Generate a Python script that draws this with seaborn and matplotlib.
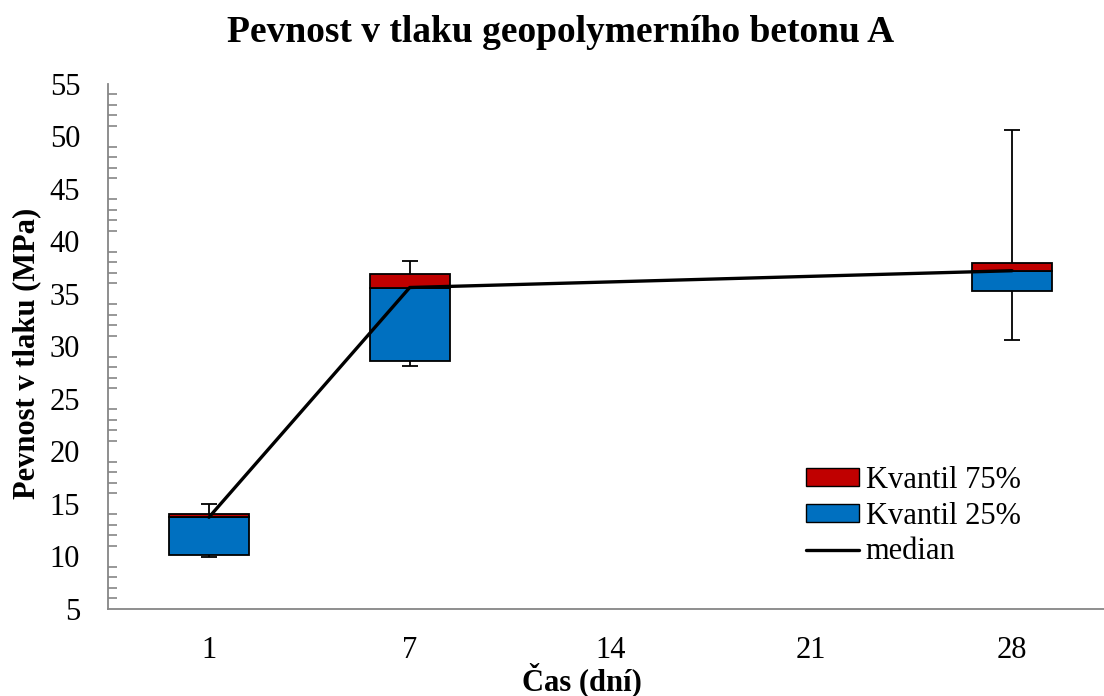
import numpy as np
import pandas as pd
import matplotlib
matplotlib.use("Agg")
import matplotlib.pyplot as plt
import seaborn as sns
from matplotlib.patches import Patch
from matplotlib.lines import Line2D
from matplotlib.ticker import MultipleLocator

# ---- data ----
day_labels = ["1", "7", "14", "21", "28"]
days = ["1", "7", "28"]
q25 = [10.1, 28.6, 35.3]
median = [13.7, 35.6, 37.2]
q75 = [14.05, 36.85, 37.95]
vmin = [9.95, 28.1, 30.6]
vmax = [15.0, 38.15, 50.65]

title = "Pevnost v tlaku geopolymerního betonu A"
xlabel = "Čas (dní)"
ylabel = "Pevnost v tlaku (MPa)"

df = pd.DataFrame({"day": days, "q25": q25, "median": median, "q75": q75,
                   "vmin": vmin, "vmax": vmax})
df["pos"] = [day_labels.index(d) for d in df["day"]]

sns.set_theme(style="white")
plt.rcParams["font.family"] = ["Liberation Serif", "DejaVu Serif"]
plt.rcParams["text.color"] = "black"

fig = plt.figure(figsize=(11.04, 6.96), dpi=100)
ax = fig.add_axes([108 / 1104, (696 - 608.5) / 696, 1 - 108 / 1104, (608.5 - 84) / 696])

red = "#C00000"
blue = "#0070C0"
gray = "#868686"
w = 0.4

# whiskers
ax.errorbar(df["pos"], df["median"],
            yerr=[df["median"] - df["vmin"], df["vmax"] - df["median"]],
            fmt="none", ecolor="black", elinewidth=1.3, capsize=6, capthick=1.3, zorder=1)
# boxes
ax.bar(df["pos"], df["median"] - df["q25"], bottom=df["q25"], width=w,
       color=blue, edgecolor="black", linewidth=1.3, zorder=2)
ax.bar(df["pos"], df["q75"] - df["median"], bottom=df["median"], width=w,
       color=red, edgecolor="black", linewidth=1.3, zorder=2)
# median line
sns.lineplot(data=df, x="pos", y="median", color="black", linewidth=2.4,
             ax=ax, zorder=3, legend=False)

ax.set_xlim(-0.503, 4.458)
ax.set_ylim(5, 55)
ax.set_xticks(range(len(day_labels)))
ax.set_xticklabels(day_labels)
ax.yaxis.set_major_locator(MultipleLocator(5))
ax.yaxis.set_minor_locator(MultipleLocator(1))
ax.tick_params(axis="both", which="both", direction="in", color=gray, width=1.2,
               labelsize=22, labelcolor="black")
ax.tick_params(axis="y", which="major", length=6.5, pad=20)
ax.tick_params(axis="y", which="minor", length=6.5, left=True)
ax.tick_params(axis="x", which="major", length=5, pad=20)
for s in ["top", "right"]:
    ax.spines[s].set_visible(False)
for s in ["left", "bottom"]:
    ax.spines[s].set_color(gray)
    ax.spines[s].set_linewidth(1.3)
ax.grid(False)
ax.set_xlabel("")
ax.set_ylabel("")

fig.text(561 / 1104, 1 - 33 / 696, title, ha="center", va="center",
         fontsize=27, fontweight="bold", color="black")
fig.text(582 / 1104, 1 - 680 / 696, xlabel, ha="center", va="center",
         fontsize=22, fontweight="bold", color="black")
fig.text(27 / 1104, 1 - 353 / 696, ylabel, ha="center", va="center",
         fontsize=22, fontweight="bold", rotation=90, color="black")

handles = [Patch(facecolor=red, edgecolor="black", linewidth=1),
           Patch(facecolor=blue, edgecolor="black", linewidth=1),
           Line2D([0], [0], color="black", linewidth=2.4)]
labels = ["Kvantil 75%", "Kvantil 25%", "median"]
leg = ax.legend(handles, labels, loc="upper left", bbox_to_anchor=(806 / 1104, 1 - 466 / 696),
                bbox_transform=fig.transFigure, frameon=False, fontsize=22,
                handlelength=1.75, handleheight=0.5, handletextpad=0.2, labelspacing=0.22,
                borderpad=0, borderaxespad=0)
for t in leg.get_texts():
    t.set_color("black")

fig.savefig("out.png", dpi=100)
